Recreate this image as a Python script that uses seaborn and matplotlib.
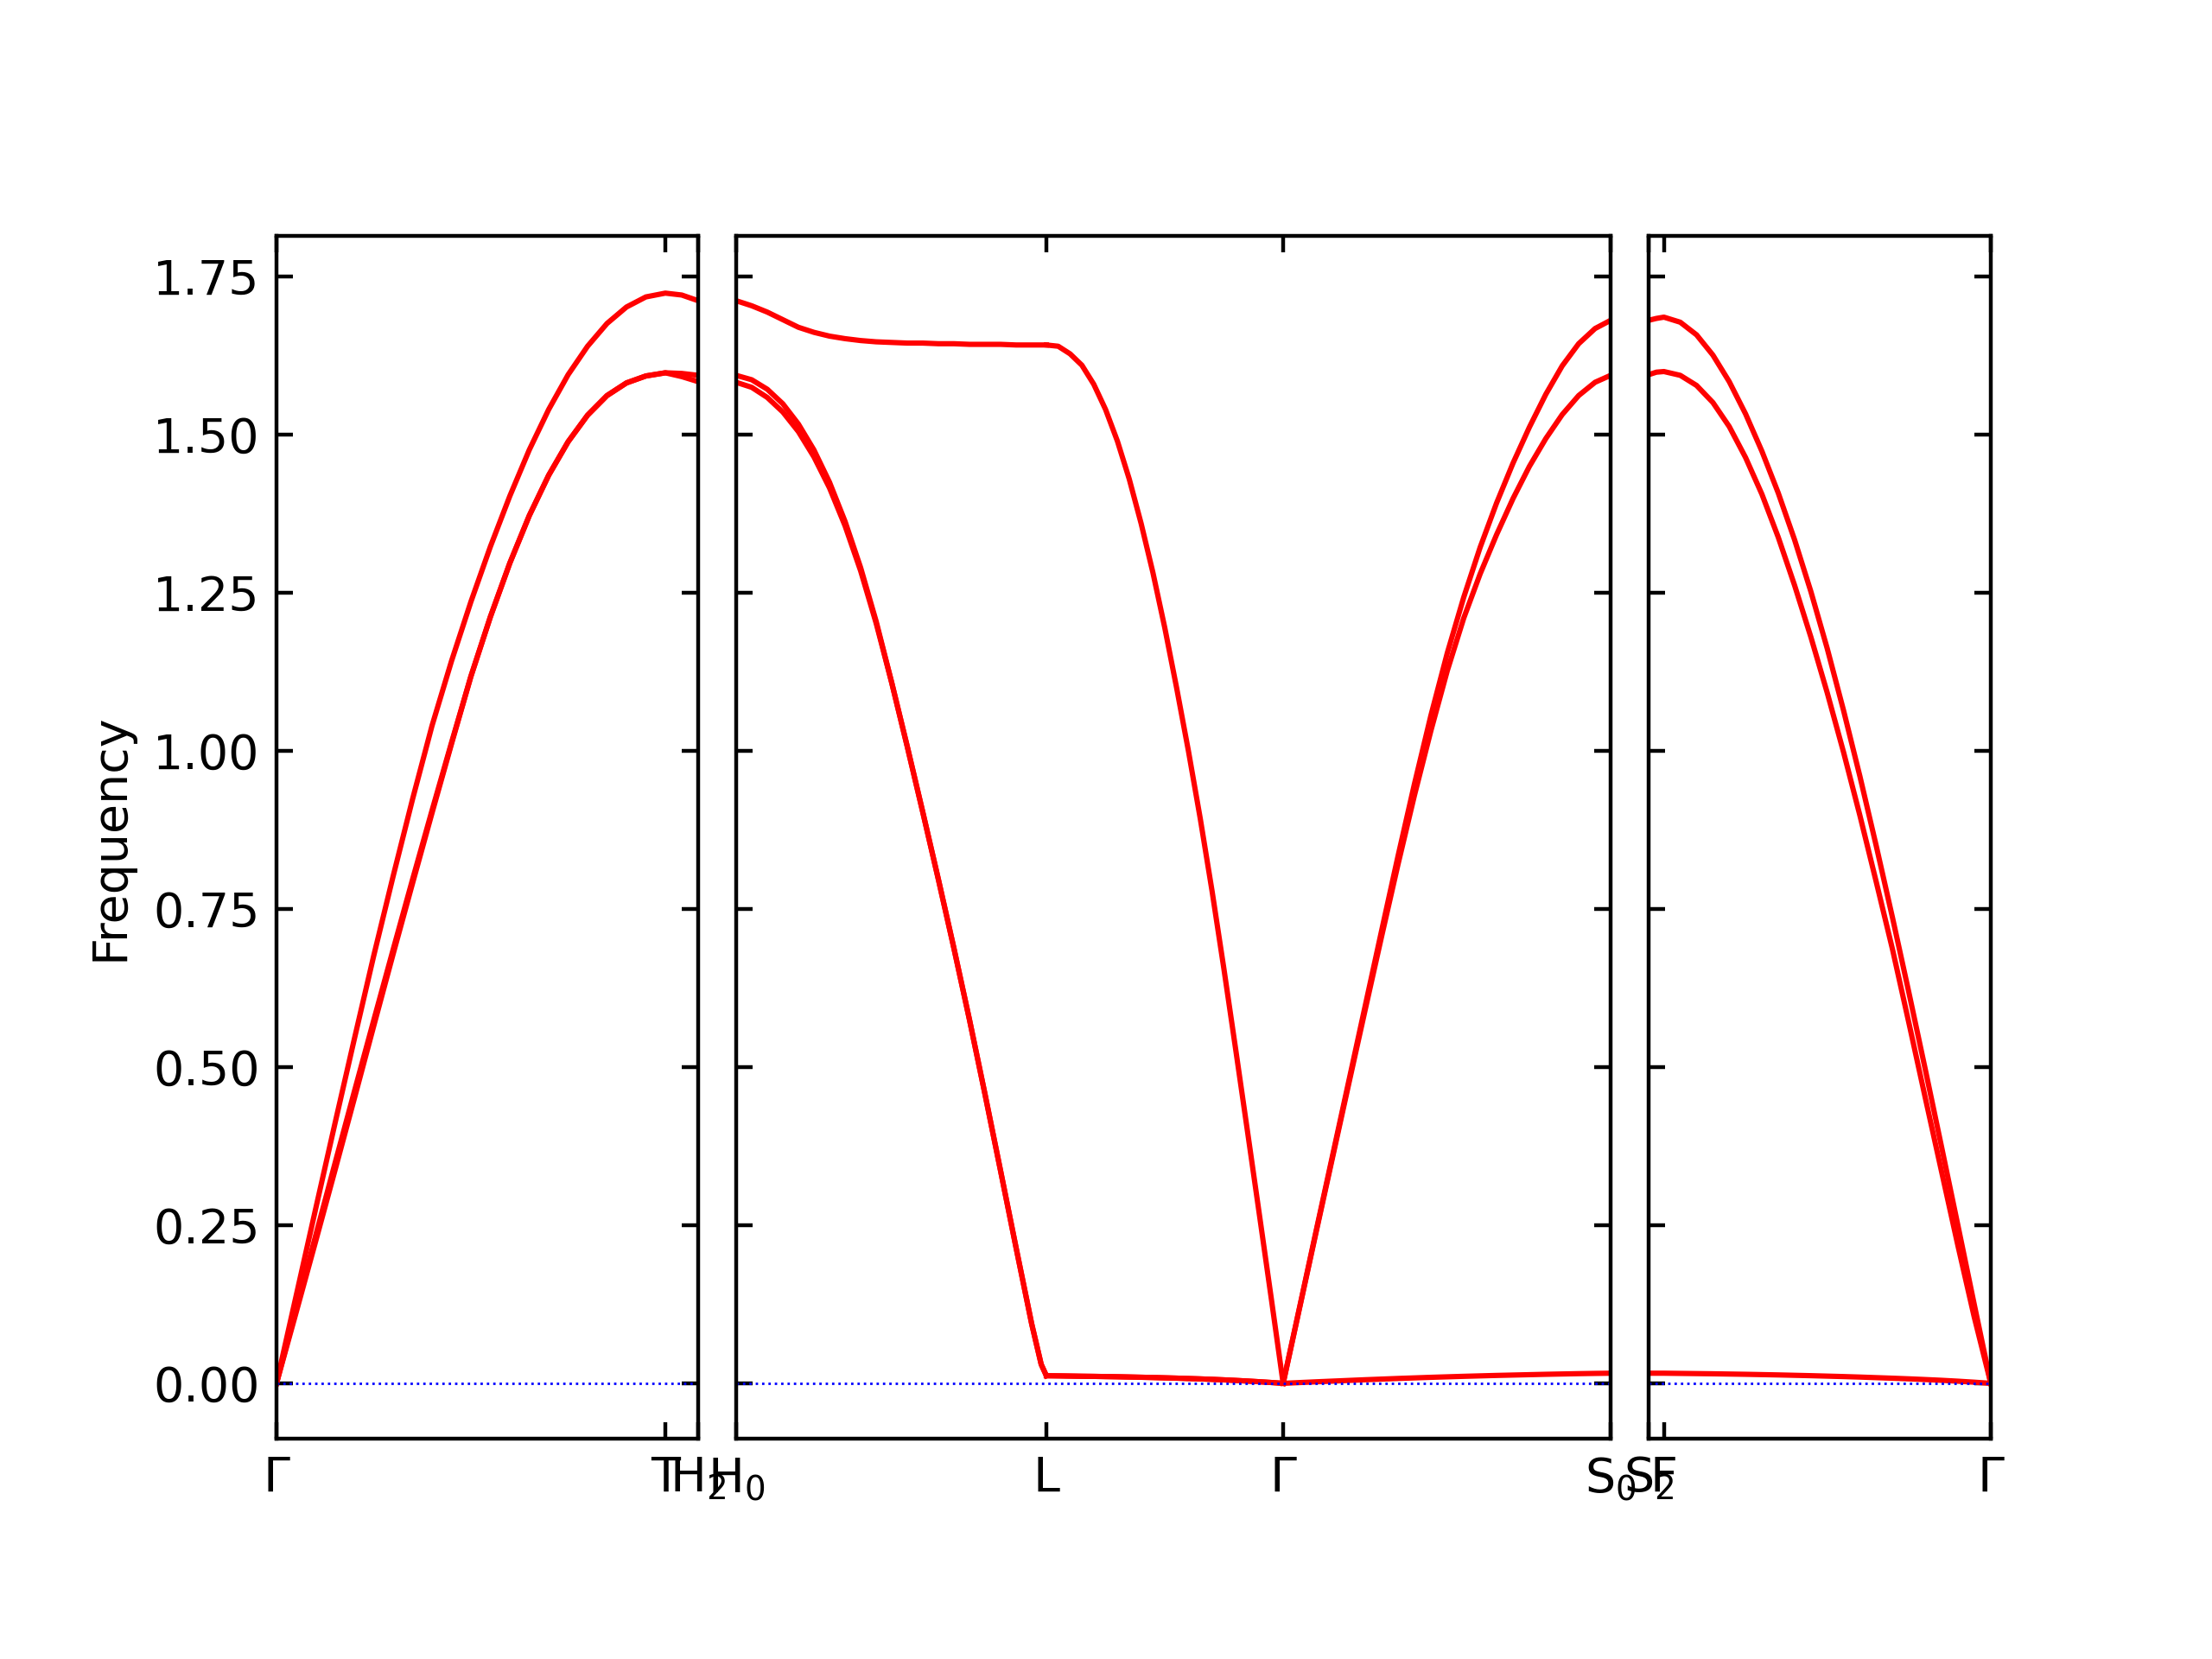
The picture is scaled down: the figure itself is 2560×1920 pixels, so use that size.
import numpy as np
import matplotlib
matplotlib.use("Agg")
import matplotlib.pyplot as plt
import seaborn as sns

## band data (path distance, frequency)
# panel 1: Gamma - T - H2
k_p1 = [0, 0.0225, 0.045, 0.0675, 0.09, 0.1125, 0.135, 0.1575, 0.18, 0.2025, 0.225,
        0.2475, 0.27, 0.2925, 0.315, 0.3375, 0.36, 0.3825, 0.405, 0.4275, 0.450, 0.469, 0.488]
p1_band3 = [0, 0.137, 0.274, 0.410, 0.544, 0.676, 0.802, 0.924, 1.040, 1.142, 1.236,
            1.323, 1.403, 1.476, 1.540, 1.595, 1.640, 1.676, 1.702, 1.718, 1.724, 1.721, 1.712]
p1_band2 = [0, 0.116, 0.232, 0.347, 0.461, 0.574, 0.686, 0.797, 0.906, 1.013, 1.118,
            1.212, 1.297, 1.372, 1.436, 1.489, 1.531, 1.562, 1.582, 1.593, 1.598, 1.597, 1.594]
p1_band1 = [0, 0.111, 0.223, 0.336, 0.450, 0.565, 0.679, 0.791, 0.902, 1.011, 1.118,
            1.212, 1.297, 1.372, 1.436, 1.489, 1.531, 1.562, 1.582, 1.593, 1.598, 1.592, 1.584]

# panel 2: H0 - L
k_p2a = [0.488, 0.506, 0.524, 0.542, 0.560, 0.578, 0.596, 0.614, 0.632, 0.650, 0.668,
         0.686, 0.704, 0.722, 0.740, 0.758, 0.776, 0.794, 0.812, 0.830, 0.841, 0.847]
p2a_band3 = [1.712, 1.704, 1.694, 1.682, 1.670, 1.662, 1.656, 1.652, 1.649, 1.647, 1.646,
             1.645, 1.645, 1.644, 1.644, 1.643, 1.643, 1.643, 1.642, 1.642, 1.642, 1.642]
p2a_band2 = [1.594, 1.587, 1.572, 1.549, 1.517, 1.476, 1.425, 1.363, 1.290, 1.205, 1.108,
             1.007, 0.903, 0.797, 0.688, 0.575, 0.457, 0.336, 0.214, 0.094, 0.030, 0.012]
p2a_band1 = [1.583, 1.575, 1.559, 1.536, 1.505, 1.465, 1.416, 1.356, 1.285, 1.202, 1.108,
             1.007, 0.903, 0.797, 0.688, 0.575, 0.457, 0.336, 0.214, 0.094, 0.030, 0.012]
# L - Gamma
k_p2b = [0.847, 0.8607, 0.8744, 0.8881, 0.9018, 0.9155, 0.9292, 0.9429, 0.9566, 0.9703, 0.984,
         0.9977, 1.0114, 1.0251, 1.0388, 1.0525, 1.0662, 1.0799, 1.0936, 1.1073, 1.121]
p2b_band3 = [1.642, 1.640, 1.628, 1.610, 1.580, 1.540, 1.490, 1.430, 1.360, 1.282, 1.195,
             1.100, 1.000, 0.893, 0.778, 0.655, 0.527, 0.397, 0.266, 0.134, 0]
p2b_band2 = [0.012, 0.0118, 0.0115, 0.0112, 0.011, 0.0107, 0.0104, 0.0100, 0.0096, 0.0092, 0.0087,
             0.0082, 0.0076, 0.0070, 0.0063, 0.0055, 0.0046, 0.0036, 0.0025, 0.0013, 0]
p2b_band1 = p2b_band2
# Gamma - S0
k_p2c = [1.121, 1.140, 1.159, 1.178, 1.197, 1.216, 1.235, 1.254, 1.273, 1.292, 1.311,
         1.330, 1.349, 1.368, 1.387, 1.406, 1.425, 1.444, 1.463, 1.482, 1.500]
p2c_band3 = [0, 0.120, 0.240, 0.359, 0.478, 0.597, 0.716, 0.834, 0.948, 1.056, 1.155,
             1.243, 1.322, 1.392, 1.455, 1.512, 1.564, 1.609, 1.644, 1.668, 1.681]
p2c_band2 = [0, 0.119, 0.238, 0.356, 0.474, 0.591, 0.707, 0.821, 0.930, 1.032, 1.127,
             1.210, 1.280, 1.342, 1.399, 1.450, 1.494, 1.532, 1.562, 1.583, 1.594]
p2c_band1 = [0, 0.0012, 0.0024, 0.0035, 0.0046, 0.0057, 0.0067, 0.0077, 0.0086, 0.0095, 0.0103,
             0.0111, 0.0118, 0.0125, 0.0131, 0.0137, 0.0143, 0.0148, 0.0153, 0.0157, 0.016]

# panel 3: S2 - F - Gamma
k_p3 = [1.500, 1.509, 1.5177, 1.5366, 1.5555, 1.5744, 1.5933, 1.6122, 1.6311, 1.650, 1.6689,
        1.6878, 1.7067, 1.7256, 1.7445, 1.7634, 1.7823, 1.8012, 1.8201, 1.839, 1.8579, 1.8768, 1.896]
p3_band3 = [1.681, 1.684, 1.686, 1.678, 1.658, 1.626, 1.584, 1.533, 1.474, 1.408, 1.334,
            1.252, 1.162, 1.064, 0.960, 0.850, 0.736, 0.618, 0.497, 0.374, 0.250, 0.125, 0]
p3_band2 = [1.595, 1.599, 1.600, 1.594, 1.578, 1.551, 1.513, 1.464, 1.406, 1.338, 1.262,
            1.180, 1.092, 0.998, 0.898, 0.793, 0.686, 0.570, 0.452, 0.335, 0.218, 0.105, 0]
p3_band1 = [0.016, 0.016, 0.016, 0.0157, 0.0154, 0.0151, 0.0147, 0.0143, 0.0138, 0.0133, 0.0127,
            0.0121, 0.0114, 0.0107, 0.0099, 0.0090, 0.0081, 0.0071, 0.0060, 0.0048, 0.0034, 0.0018, 0]

# high-symmetry points per panel
tick_pos = [[0, 0.450, 0.488], [0.488, 0.847, 1.121, 1.500], [1.500, 1.5177, 1.896]]
tick_lbl = [['Γ', 'T', 'H$_2$'], ['H$_0$', 'L', 'Γ', 'S$_0$'], ['S$_2$', 'F', 'Γ']]
y_ticks = [0.0, 0.25, 0.5, 0.75, 1.0, 1.25, 1.5, 1.75]

panels = [
    [(k_p1, [p1_band1, p1_band2, p1_band3])],
    [(k_p2a, [p2a_band1, p2a_band2, p2a_band3]),
     (k_p2b, [p2b_band1, p2b_band2, p2b_band3]),
     (k_p2c, [p2c_band1, p2c_band2, p2c_band3])],
    [(k_p3, [p3_band1, p3_band2, p3_band3])],
]

fig = plt.figure(figsize=(6.4, 4.8), dpi=400)
widths = [t[-1] - t[0] for t in tick_pos]
gs = fig.add_gridspec(1, 3, width_ratios=widths, wspace=0.0696,
                      left=0.125, right=0.9, top=0.858, bottom=0.133)

axes = []
for i, segs in enumerate(panels):
    ax = fig.add_subplot(gs[0, i], sharey=axes[0] if axes else None)
    axes.append(ax)
    for k, bands in segs:
        for f in bands:
            sns.lineplot(x=k, y=f, ax=ax, color='r', linewidth=1.1,
                         sort=False, estimator=None)
    ax.axhline(0, linestyle=':', linewidth=0.5, color='b')
    ax.set_xlim(tick_pos[i][0], tick_pos[i][-1])
    ax.set_xticks(tick_pos[i])
    ax.set_xticklabels(tick_lbl[i])
    ax.tick_params(direction='in', top=True, right=True, labelsize=10)
    if i > 0:
        ax.tick_params(labelleft=False)

axes[0].set_ylim(-0.087, 1.815)
axes[0].set_yticks(y_ticks)
axes[0].set_ylabel('Frequency')

fig.savefig('out.png', dpi=400)
